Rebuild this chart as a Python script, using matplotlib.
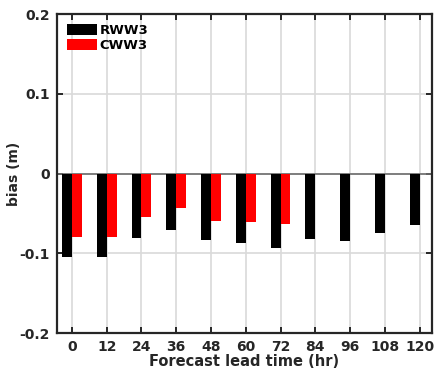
import numpy as np
import matplotlib
matplotlib.use('Agg')
from matplotlib import pyplot as plt

plt.rcParams['font.family'] = ['DejaVu Sans']
plt.rcParams['font.weight'] = 'bold'

lead_time = [0, 12, 24, 36, 48, 60, 72, 84, 96, 108, 120]
rww3 = [-0.104, -0.105, -0.081, -0.071, -0.083, -0.087, -0.093, -0.0825, -0.085, -0.075, -0.065]
cww3_time = [0, 12, 24, 36, 48, 60, 72]
cww3 = [-0.079, -0.080, -0.054, -0.043, -0.060, -0.061, -0.063]

fig = plt.figure(figsize=(4.34, 3.73), dpi=100)
ax = fig.add_axes([0.131, 0.107, 0.864, 0.855])

w = 3.4
ax.bar(np.array(lead_time) - w / 2, rww3, width=w, color='black', label='RWW3', zorder=3)
ax.bar(np.array(cww3_time) + w / 2, cww3, width=w, color='red', label='CWW3', zorder=3)

ax.set_xlim(-5.2, 124.2)
ax.set_ylim(-0.2, 0.2)
ax.set_xticks(lead_time)
ax.set_yticks([-0.2, -0.1, 0, 0.1, 0.2])
ax.set_yticklabels(['-0.2', '-0.1', '0', '0.1', '0.2'])
ax.grid(True, color='#d9d9d9', linewidth=1.2, zorder=0)
ax.axhline(0, color='#6e6e6e', linewidth=1.2, zorder=2)

for s in ax.spines.values():
    s.set_linewidth(1.6)
    s.set_color('#262626')
ax.tick_params(direction='in', top=True, right=True, length=4, width=1.4,
               labelsize=10, color='#262626', labelcolor='#262626', pad=5)
for lab in ax.get_xticklabels() + ax.get_yticklabels():
    lab.set_fontweight('bold')

ax.set_xlabel('Forecast lead time (hr)', fontsize=10.5, fontweight='bold', color='#262626', labelpad=0)
ax.set_ylabel('bias (m)', fontsize=10, fontweight='bold', color='#262626', labelpad=-1)

leg = ax.legend(loc='upper left', frameon=False, handlelength=2.3,
                handleheight=0.8, handletextpad=0.2, labelspacing=0.15,
                borderaxespad=0.35, prop={'weight': 'bold', 'size': 9.5})

fig.savefig('out.png', dpi=100)
